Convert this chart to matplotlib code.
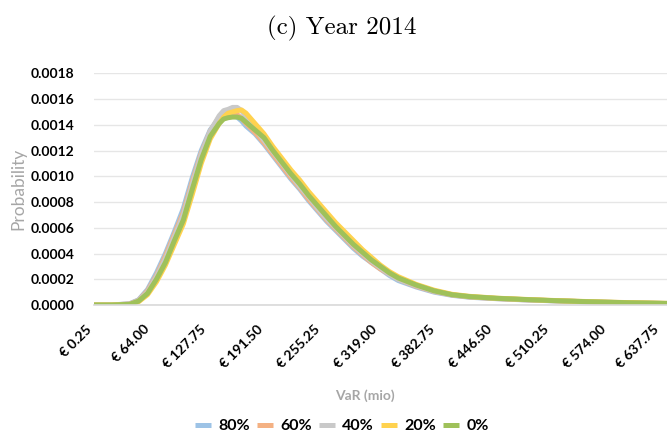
import matplotlib
matplotlib.use("Agg")
import matplotlib.pyplot as plt
from matplotlib.lines import Line2D

# ---- data ----
var_x = [0.25, 20, 40, 50, 60, 70, 80, 90, 100, 110, 120, 130, 140, 145, 150, 155,
         160, 165, 170, 180, 190, 200, 210, 220, 230, 240, 250, 260, 270, 280, 290,
         300, 310, 320, 330, 340, 360, 380, 400, 420, 450, 480, 510, 540, 570, 600, 640]

p80 = [0, 0, 0.00001, 0.00004, 0.00012, 0.00025, 0.00040, 0.00057, 0.00075, 0.00099,
       0.00120, 0.00136, 0.00145, 0.00148, 0.00148, 0.00147, 0.00146, 0.00143, 0.00139,
       0.00133, 0.00125, 0.00116, 0.00107, 0.00098, 0.00090, 0.00081, 0.00073, 0.00065,
       0.00058, 0.00051, 0.00044, 0.00038, 0.00033, 0.00028, 0.00023, 0.00019, 0.00014,
       0.00010, 0.000075, 0.00006, 0.000049, 0.00004, 0.000033, 0.000027, 0.000021,
       0.000016, 0.000011]
p60 = [0, 0, 0.000008, 0.000036, 0.00011, 0.00023, 0.00038, 0.00055, 0.00072, 0.00096,
       0.00118, 0.00135, 0.00146, 0.00149, 0.00150, 0.00150, 0.00148, 0.00145, 0.00141,
       0.00134, 0.00126, 0.00117, 0.00108, 0.00099, 0.00091, 0.00082, 0.00074, 0.00066,
       0.00059, 0.00052, 0.00045, 0.00039, 0.00033, 0.00028, 0.00024, 0.00020, 0.000145,
       0.000105, 0.000078, 0.000062, 0.00005, 0.000041, 0.000034, 0.000027, 0.000021,
       0.000016, 0.000011]
p40 = [0, 0, 0.000007, 0.000034, 0.00010, 0.00022, 0.00036, 0.00053, 0.00070, 0.00094,
       0.00117, 0.00135, 0.00147, 0.00151, 0.00152, 0.001535, 0.001535, 0.00151, 0.00146,
       0.00137, 0.00128, 0.00119, 0.00110, 0.00101, 0.00092, 0.00084, 0.00075, 0.00067,
       0.00060, 0.00053, 0.00046, 0.00040, 0.00034, 0.00029, 0.00024, 0.00020, 0.00015,
       0.000107, 0.000079, 0.000063, 0.000051, 0.000042, 0.000034, 0.000028, 0.000022,
       0.000017, 0.000012]
p20 = [0, 0, 0.000004, 0.000025, 0.00008, 0.00018, 0.00031, 0.00047, 0.00063, 0.00086,
       0.00110, 0.00129, 0.00141, 0.00146, 0.00149, 0.00150, 0.00151, 0.001515, 0.00149,
       0.00141, 0.00133, 0.00123, 0.00114, 0.00105, 0.00097, 0.00088, 0.00080, 0.00072,
       0.00064, 0.00057, 0.00050, 0.00043, 0.00037, 0.00031, 0.00026, 0.00022, 0.00016,
       0.000115, 0.000083, 0.000067, 0.000053, 0.000044, 0.000036, 0.000029, 0.000023,
       0.000018, 0.000013]
p0 = [0, 0, 0.000005, 0.00003, 0.00009, 0.00020, 0.00033, 0.00050, 0.00066, 0.00090,
      0.00113, 0.00131, 0.00141, 0.001445, 0.001455, 0.00146, 0.00146, 0.00145, 0.00142,
      0.00136, 0.00130, 0.00120, 0.00111, 0.00102, 0.00094, 0.00085, 0.00077, 0.00069,
      0.00061, 0.00054, 0.00047, 0.00041, 0.00035, 0.00030, 0.00025, 0.00021, 0.000155,
      0.00011, 0.00008, 0.000065, 0.000052, 0.000043, 0.000035, 0.000028, 0.000022,
      0.000017, 0.000012]

series_labels = ["80%", "60%", "40%", "20%", "0%"]
series_values = [p80, p60, p40, p20, p0]
series_colors = ["#9DC3E6", "#F4B183", "#C9C9C9", "#FFD24F", "#9FC15A"]

x_tick_vals = [0.25, 64.00, 127.75, 191.50, 255.25, 319.00, 382.75, 446.50, 510.25, 574.00, 637.75]
x_tick_labels = ["€ 0.25", "€ 64.00", "€ 127.75", "€ 191.50", "€ 255.25", "€ 319.00",
                 "€ 382.75", "€ 446.50", "€ 510.25", "€ 574.00", "€ 637.75"]
y_tick_vals = [0.0000, 0.0002, 0.0004, 0.0006, 0.0008, 0.0010, 0.0012, 0.0014, 0.0016, 0.0018]

# ---- figure ----
W, H = 667, 436
fig = plt.figure(figsize=(W / 100, H / 100), dpi=100)
ax = fig.add_axes([94 / W, 1 - 305 / H, (667 - 94) / W, (305 - 73.3) / H])

for lab, vals, col in zip(series_labels, series_values, series_colors):
    ax.plot(var_x, vals, color=col, lw=3.6, solid_capstyle="round",
            solid_joinstyle="round", label=lab)

ax.set_xlim(0.25, 640)
ax.set_ylim(0, 0.0018)
ax.set_yticks(y_tick_vals)
ax.set_yticklabels([f"{v:.4f}" for v in y_tick_vals],
                   fontfamily="Lato", fontweight="bold", fontsize=10)
ax.set_xticks(x_tick_vals)
ax.set_xticklabels([])
# rotated category labels, anchored just below the axis
for i, (xv, lab) in enumerate(zip(x_tick_vals, x_tick_labels)):
    dx = -8 if i == len(x_tick_vals) - 1 else -4
    ax.annotate(lab, xy=(xv, 0), xycoords=("data", "axes fraction"),
                xytext=(dx * 0.72, -16), textcoords="offset points",
                rotation=45, rotation_mode="anchor", ha="right", va="center",
                family="Lato", weight="bold", size=10, color="black",
                annotation_clip=False)
ax.tick_params(axis="both", length=0)
ax.tick_params(axis="y", pad=14)

ax.grid(axis="y", color="#E6E6E6", lw=1)
ax.set_axisbelow(True)
for s in ["top", "right", "left"]:
    ax.spines[s].set_visible(False)
ax.spines["bottom"].set_color("#D9D9D9")
ax.spines["bottom"].set_linewidth(1.2)

fig.text(18 / W, 1 - 189 / H, "Probability", rotation=90, ha="center", va="center",
         family="Lato", size=12.5, color="#A6A6A6")
fig.text(365 / W, 1 - 396 / H, "VaR (mio)", ha="center", va="center",
         family="Lato", weight="bold", size=10, color="#A6A6A6")
fig.text(342 / W, 1 - 28 / H, "(c) Year 2014", ha="center", va="center",
         family="cmr10", size=18, color="black")

handles = [Line2D([0], [0], color=c, lw=3.6, solid_capstyle="butt") for c in series_colors]
fig.legend(handles, series_labels, loc="center", bbox_to_anchor=(342 / W, 1 - 426 / H),
           ncol=5, frameon=False, handlelength=1.0, handletextpad=0.45, columnspacing=0.45,
           borderpad=0.1, prop=dict(family="Lato", weight="bold", size=11.5))

fig.savefig("out.png", dpi=100)
